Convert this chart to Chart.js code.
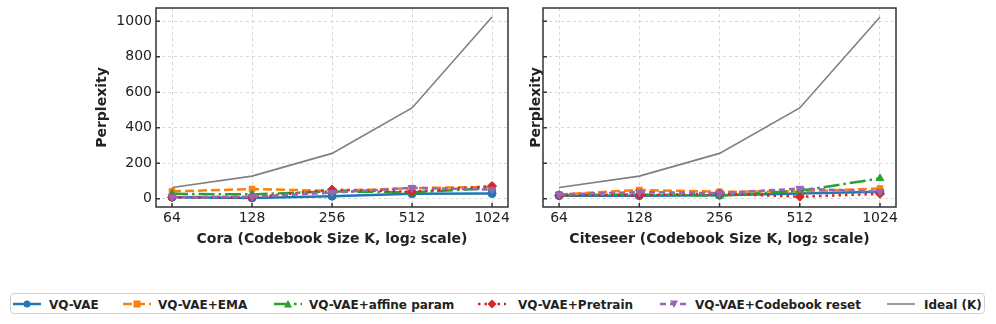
<!DOCTYPE html>
<html><head><meta charset="utf-8">
<script src="https://cdn.jsdelivr.net/npm/chart.js@4/dist/chart.umd.min.js"></script>
<style>
html,body{margin:0;padding:0;background:#fff;width:996px;height:324px;overflow:hidden;font-family:"DejaVu Sans",sans-serif;}
.c{position:absolute;top:0;}
#legend{position:absolute;left:10px;top:293px;width:975px;height:21px;border:1px solid #d0d0d0;border-radius:4px;box-sizing:border-box;}
.li{position:absolute;top:0;height:21px;display:flex;align-items:center;font-weight:bold;font-size:12px;color:#222;white-space:nowrap;}
.li svg{position:absolute;top:3px;}
</style></head><body>
<canvas id="c1" class="c" style="left:0" width="520" height="250"></canvas>
<canvas id="c2" class="c" style="left:520px" width="476" height="250"></canvas>
<div id="legend"></div>
<script>
const codebookSizes = [64, 128, 256, 512, 1024];
const yTicks = [0, 200, 400, 600, 800, 1000];
const seriesNames = ["VQ-VAE", "VQ-VAE+EMA", "VQ-VAE+affine param", "VQ-VAE+Pretrain", "VQ-VAE+Codebook reset", "Ideal (K)"];
const coraVQVAE = [9, 5, 15, 28, 30];
const coraEMA = [42, 55, 45, 60, 68];
const coraAffine = [28, 25, 42, 37, 60];
const coraPretrain = [8, 8, 52, 40, 72];
const coraReset = [10, 12, 35, 62, 52];
const citeVQVAE = [18, 18, 20, 30, 40];
const citeEMA = [25, 50, 40, 42, 58];
const citeAffine = [20, 25, 18, 45, 115];
const citePretrain = [20, 20, 30, 12, 28];
const citeReset = [25, 38, 32, 58, 40];
const ideal = [64, 128, 256, 512, 1024];

const colors = ["#1f77b4", "#ff7f0e", "#2ca02c", "#d62728", "#9467bd", "#7f7f7f"];
const dashes = [[], [9, 4], [16, 4, 2.5, 4], [2.5, 4], [6, 4], []];
const pstyles = ["circle", "rect", "triangle", "rectRot", "triangle", false];
const prot = [0, 0, 0, 0, 180, 0];
const prad = [4, 4, 4.5, 4.5, 4.5, 0];

function makeDatasets(arrs) {
  return arrs.map((a, i) => ({
    label: seriesNames[i],
    data: codebookSizes.map((k, j) => ({x: k, y: a[j]})),
    borderColor: colors[i],
    backgroundColor: colors[i],
    borderWidth: i === 5 ? 1.6 : 2.5,
    borderDash: dashes[i],
    pointStyle: pstyles[i],
    pointRotation: prot[i],
    pointRadius: prad[i],
    pointBorderWidth: 1,
    pointHoverRadius: prad[i],
    fill: false,
    tension: 0,
    order: 10 - i
  }));
}

const frame = {
  id: 'frame',
  afterDraw(chart) {
    const {ctx, chartArea: a, scales} = chart;
    ctx.save();
    ctx.strokeStyle = '#333';
    ctx.lineWidth = 1.5;
    ctx.beginPath();
    yTicks.forEach(v => { const y = scales.y.getPixelForValue(v); ctx.moveTo(a.left, y); ctx.lineTo(a.left + 4, y); });
    codebookSizes.forEach(v => { const x = scales.x.getPixelForValue(v); ctx.moveTo(x, a.bottom); ctx.lineTo(x, a.bottom - 4); });
    ctx.stroke();
    ctx.strokeRect(a.left, a.top, a.right - a.left, a.bottom - a.top);
    ctx.restore();
  }
};

function makeChart(id, arrs, xTitle, padLeft, yAxisWidth, padRight, showYLabels) {
  return new Chart(document.getElementById(id), {
    type: 'line',
    data: {datasets: makeDatasets(arrs)},
    options: {
      responsive: false, animation: false,
      layout: {padding: {top: 8, right: padRight, left: padLeft, bottom: 0}},
      plugins: {legend: {display: false}, tooltip: {enabled: false}},
      scales: {
        x: {
          type: 'logarithmic', min: 55.7, max: 1176,
          afterBuildTicks: s => { s.ticks = codebookSizes.map(v => ({value: v})); },
          afterFit: s => { s.height = 43; s.paddingLeft = 0; s.paddingRight = 0; },
          ticks: {callback: v => String(v), color: '#222', font: {family: 'DejaVu Sans', size: 14}, padding: 3, maxRotation: 0, autoSkip: false},
          grid: {color: '#cfcfcf', lineWidth: 0.8, tickLength: 0, drawTicks: false},
          border: {display: false, dash: [3, 3]},
          title: {display: true, text: xTitle, color: '#222', font: {family: 'DejaVu Sans', size: 14, weight: 'bold'}, padding: {top: 0, bottom: 2}}
        },
        y: {
          type: 'linear', min: -46, max: 1075,
          afterBuildTicks: s => { s.ticks = yTicks.map(v => ({value: v})); },
          afterFit: s => { s.width = yAxisWidth; s.paddingTop = 0; s.paddingBottom = 0; },
          ticks: {display: showYLabels, callback: v => String(v), color: '#222', font: {family: 'DejaVu Sans', size: 14}, padding: 4},
          grid: {color: '#cfcfcf', lineWidth: 0.8, drawTicks: false},
          border: {display: false, dash: [3, 3]},
          title: {display: true, text: 'Perplexity', color: '#222', font: {family: 'DejaVu Sans', size: 14, weight: 'bold'}, padding: {top: 0, bottom: 0}}
        }
      }
    },
    plugins: [frame]
  });
}

makeChart('c1', [coraVQVAE, coraEMA, coraAffine, coraPretrain, coraReset, ideal], 'Cora (Codebook Size K, log\u2082 scale)', 94, 62, 12, true);
makeChart('c2', [citeVQVAE, citeEMA, citeAffine, citePretrain, citeReset, ideal], 'Citeseer (Codebook Size K, log\u2082 scale)', 8, 15, 100, false);

const legendPos = [[2, 38], [112, 147], [263, 298], [467, 507], [649, 684], [876, 913]];
const markerSvg = [
  c => `<circle cx="14" cy="7" r="3.5" fill="${c}"/>`,
  c => `<rect x="10.5" y="3.5" width="7" height="7" fill="${c}"/>`,
  c => `<polygon points="14,3 18,10.5 10,10.5" fill="${c}"/>`,
  c => `<polygon points="14,2.5 18.5,7 14,11.5 9.5,7" fill="${c}"/>`,
  c => `<polygon points="14,11 18,3.5 10,3.5" fill="${c}"/>`,
  c => ``
];
const lg = document.getElementById('legend');
seriesNames.forEach((n, i) => {
  const d = document.createElement('div');
  d.className = 'li';
  d.style.left = legendPos[i][0] + 'px';
  const da = dashes[i].length ? `stroke-dasharray="${dashes[i].join(',')}"` : '';
  const lw = i === 5 ? 1.6 : 2.5;
  d.innerHTML = `<svg width="28" height="14" style="left:0"><line x1="0" y1="7" x2="28" y2="7" stroke="${colors[i]}" stroke-width="${lw}" ${da}/>${markerSvg[i](colors[i])}</svg><span style="position:absolute;left:${legendPos[i][1] - legendPos[i][0]}px">${n}</span>`;
  lg.appendChild(d);
});
</script>
</body></html>
